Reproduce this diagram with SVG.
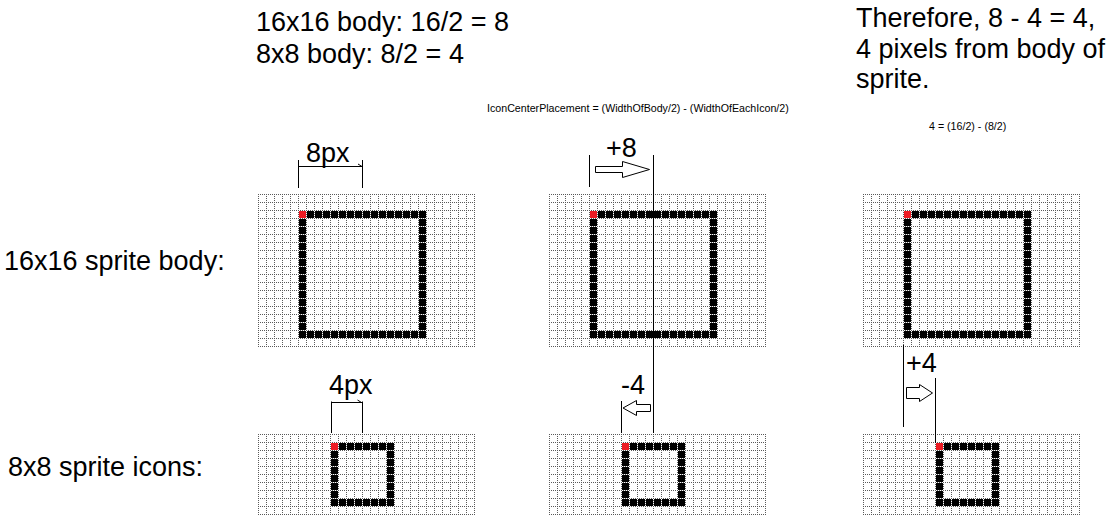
<svg xmlns="http://www.w3.org/2000/svg" width="1117" height="530" viewBox="0 0 1117 530">
<style>
text{font-family:"Liberation Sans",Arial,sans-serif;fill:#000}
.big{font-size:27px}
.small{font-size:10.67px}
.ln{stroke:#000;stroke-width:1;fill:none}
.arr{stroke:#000;stroke-width:1;fill:#fff;stroke-linejoin:miter}
.red{fill:#ed1c24}
</style>
<defs>
<pattern id="grid" patternUnits="userSpaceOnUse" width="8" height="8">
<path d="M0.5 0V8M0 0.5H8" stroke="#5a5a5a" stroke-width="1" stroke-dasharray="1 1" fill="none"/>
</pattern>
<pattern id="cell" patternUnits="userSpaceOnUse" width="8" height="8">
<rect x="1" y="1" width="7" height="7" fill="#000"/>
</pattern>
<g id="body16">
<rect width="217" height="153" fill="#fff"/>
<rect x="40" y="16" width="128" height="8" fill="url(#cell)"/>
<rect x="40" y="136" width="128" height="8" fill="url(#cell)"/>
<rect x="40" y="24" width="8" height="112" fill="url(#cell)"/>
<rect x="160" y="24" width="8" height="112" fill="url(#cell)"/>
<rect x="41" y="17" width="7" height="7" class="red"/>
<rect width="217" height="153" fill="url(#grid)"/>
</g>
<g id="icon8">
<rect width="217" height="81" fill="#fff"/>
<rect x="72" y="8" width="64" height="8" fill="url(#cell)"/>
<rect x="72" y="64" width="64" height="8" fill="url(#cell)"/>
<rect x="72" y="16" width="8" height="48" fill="url(#cell)"/>
<rect x="128" y="16" width="8" height="48" fill="url(#cell)"/>
<rect x="73" y="9" width="7" height="7" class="red"/>
<rect width="217" height="81" fill="url(#grid)"/>
</g>
</defs>
<rect width="1117" height="530" fill="#fff"/>

<g id="notes">
<text class="big" x="256" y="31">16x16 body: 16/2 = 8</text>
<text class="big" x="256" y="63">8x8 body: 8/2 = 4</text>
<text class="big" x="856" y="27">Therefore, 8 - 4 = 4,</text>
<text class="big" x="856" y="58">4 pixels from body of</text>
<text class="big" x="856" y="88">sprite.</text>
<text class="small" x="487" y="112">IconCenterPlacement = (WidthOfBody/2) - (WidthOfEachIcon/2)</text>
<text class="small" x="929" y="130">4 = (16/2) - (8/2)</text>
</g>

<g id="row-labels">
<text class="big" x="4" y="270">16x16 sprite body:</text>
<text class="big" x="8" y="476">8x8 sprite icons:</text>
</g>

<g id="body-left"><use href="#body16" x="258" y="194"/></g>
<g id="body-middle"><use href="#body16" x="549" y="194"/></g>
<g id="body-right"><use href="#body16" x="863" y="194"/></g>
<g id="icon-left"><use href="#icon8" x="258" y="434"/></g>
<g id="icon-middle"><use href="#icon8" x="549" y="434"/></g>
<g id="icon-right"><use href="#icon8" x="863" y="434"/></g>

<g id="connectors">
<path class="ln" d="M298.5 160V188M362.5 160V188M298.5 166.5H362.5M358 164L362 166.5"/>
<text class="big" x="306" y="162">8px</text>
<path class="ln" d="M331.5 401.5V433M362.5 401.5V433M331.5 402.5H362.5M357.5 400L361.5 402.5"/>
<text class="big" x="329" y="394">4px</text>
<path class="ln" d="M589.5 155V187M653.5 155V433M621.5 401V433"/>
<polygon class="arr" points="595.5,166.5 622.5,166.5 622.5,161.5 649.5,169.5 622.5,177.5 622.5,172.5 595.5,172.5"/>
<text class="big" x="606" y="157">+8</text>
<polygon class="arr" points="623,408 636.5,400.5 636.5,404.5 650.5,404.5 650.5,411.5 636.5,411.5 636.5,415.5"/>
<text class="big" x="621" y="394">-4</text>
<path class="ln" d="M903.5 345V427M935.5 378V443"/>
<polygon class="arr" points="906.5,387.5 919.5,387.5 919.5,384.5 932.5,393 919.5,401.5 919.5,398.5 906.5,398.5"/>
<text class="big" x="906" y="372">+4</text>
</g>
</svg>
